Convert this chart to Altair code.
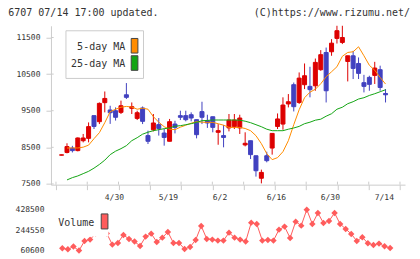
import altair as alt
import pandas as pd
import numpy as np

# ---------------- data ----------------
title_text = "6707 07/14 17:00 updated."
credit_text = "(C)https://www.rizumu.net/"
date_labels = ["4/30", "5/19", "6/2", "6/16", "6/30", "7/14"]
date_label_idx = [8, 18, 28, 38, 48, 58]
price_ticks = [7500, 8500, 9500, 10500, 11500]
vol_ticks = [60600, 244550, 428500]
ma_labels = ["5-day MA", "25-day MA"]
vol_label = "Volume"

open_ = [8285, 8360, 8480, 8410, 8680, 8745, 9365, 9200, 9720, 9520, 9500, 9455, 9935, 9565, 9290,
         9575, 8820, 8980, 9120, 8890, 8665, 9135, 9365, 9365, 9390, 9255, 9475, 9225, 9335, 8910,
         8820, 9030, 9065, 9030, 8565, 8680, 8270, 7655, 8270, 8480, 9070, 9135, 9685, 10210, 9725,
         10210, 10165, 10180, 10620, 11090, 11110, 11475, 11365, 10845, 11000, 10790, 10265, 10410,
         10465, 10620, 9970]
close = [8295, 8520, 8410, 8755, 8755, 9065, 9070, 9700, 9835, 9445, 9320, 9635, 9865, 9610, 9445,
         9210, 8665, 9165, 9015, 8770, 9200, 9045, 9320, 9255, 9300, 8845, 9320, 9165, 9045, 8955,
         8770, 9245, 9245, 9300, 8610, 8300, 7860, 7815, 8135, 8880, 9275, 9655, 9745, 9610, 10390,
         10455, 10075, 10820, 11030, 10045, 11345, 11685, 11500, 11000, 10655, 10520, 10165, 10220,
         10665, 10135, 9935]
high = [8300, 8610, 8540, 8770, 8865, 9180, 9365, 9725, 10025, 9635, 9590, 9775, 10255, 9725, 9500,
        9615, 8955, 9410, 9300, 9000, 9275, 9225, 9500, 9500, 9455, 9255, 9745, 9390, 9335, 9135,
        9110, 9410, 9410, 9390, 8910, 8680, 8270, 7890, 8380, 8880, 9425, 9865, 9955, 10270, 10545,
        10790, 10700, 10925, 11155, 11225, 11455, 11820, 11820, 11000, 11135, 10955, 10480, 10455,
        10835, 10730, 10090]
low = [8280, 8335, 8360, 8390, 8635, 8635, 9000, 9135, 9455, 9140, 9230, 9410, 9820, 9410, 9245,
       9135, 8590, 8935, 8820, 8545, 8665, 8880, 9245, 9210, 9210, 8745, 9135, 9030, 8910, 8570,
       8500, 8935, 9000, 8865, 8525, 8180, 7700, 7515, 8090, 8300, 9000, 8980, 9590, 9480, 9685,
       10090, 9865, 10045, 10590, 9725, 11000, 11335, 11320, 10300, 10365, 10365, 10000, 10045,
       10230, 10045, 9725]
ma5 = [None, 8482, 8482, 8482, 8504, 8559, 8736, 8900, 9173, 9473, 9541, 9595, 9617, 9601, 9541,
       9568, 9541, 9336, 9186, 9063, 8995, 8982, 9050, 9104, 9159, 9200, 9186, 9181, 9181, 9145,
       9104, 9044, 9044, 9044, 9014, 8954, 8818, 8600, 8327, 8163, 8218, 8381, 8681, 9118, 9527,
       9855, 10005, 10087, 10237, 10428, 10564, 10701, 10987, 11091, 11110, 11246, 11001, 10741,
       10605, 10409, 10229]
ma25 = [None, 7609, 7672, 7718, 7781, 7844, 7931, 8032, 8149, 8300, 8395, 8463, 8545, 8681, 8763,
        8859, 8913, 8954, 8982, 9009, 9028, 9077, 9091, 9118, 9145, 9181, 9227, 9235, 9246, 9246,
        9246, 9246, 9246, 9241, 9213, 9173, 9118, 9063, 8995, 8954, 8954, 8954, 8995, 9028, 9072,
        9145, 9186, 9241, 9268, 9350, 9418, 9541, 9595, 9691, 9746, 9819, 9855, 9917, 9964, 10018,
        10073]
volume = [None, 81500, 72500, 96500, 60600, 147400, 159300, 215000, 230000, 215000, 114400, 129400,
          201200, 165300, 141400, 102500, 186200, 213100, 138400, 177200, 228100, 129400, 129400,
          75600, 93500, 156300, 282000, 165300, 159300, 150300, 150300, 222100, 177200, 159300,
          141400, 311800, 299900, 150300, 156300, 150300, 249000, 276000, 174300, 320800, 284900,
          428500, 299900, 398600, 308800, 326800, 398600, 299900, 255000, 210200, 147400, 180200,
          126400, 111500, 123400, 99500, 84600]

n = len(open_)
df = pd.DataFrame({"i": list(range(n)), "open": open_, "high": high, "low": low,
                   "close": close, "ma5": ma5, "ma25": ma25, "vol": volume})
df["dir"] = np.where(df["close"] >= df["open"], "up", "down")

# ---------------- style / layout ----------------
F = "DejaVu Sans Mono"
RED, BLUE = "#dd0000", "#4141c0"
ORANGE, GREEN = "#ff8c00", "#14a514"
VOLC = "#ff5c5c"
AX, TXT = "#cccccc", "#333333"

PW, PH, VH = 354.3, 159, 41
XD = [-1.043, 62.68]
xticks = [float(v) for v in np.linspace(XD[0], XD[1], 12)]

xscale = alt.Scale(domain=XD, nice=False, zero=False)
yscale = alt.Scale(domain=[7480, 11820], nice=False, zero=False)
vscale = alt.Scale(domain=[vol_ticks[0], vol_ticks[-1]], nice=False, zero=False)
cscale = alt.Scale(domain=["up", "down"], range=[RED, BLUE])

base = alt.Chart(df)

wicks = base.mark_rule(strokeWidth=1).encode(
    x=alt.X("i:Q", scale=xscale, title=None,
            axis=alt.Axis(values=xticks, tickCount=50, labels=False, grid=False, tickSize=5,
                          tickColor=AX, domainColor=AX)),
    y=alt.Y("low:Q", scale=yscale, title=None,
            axis=alt.Axis(values=price_ticks, tickCount=50, grid=False, tickSize=5, tickColor=AX,
                          domainColor=AX, labelFont=F, labelFontSize=8, labelColor=TXT,
                          labelPadding=6, labelOverlap=False, format="d")),
    y2="high:Q",
    color=alt.Color("dir:N", scale=cscale, legend=None),
)
bodies = base.mark_bar(size=4, strokeWidth=1).encode(
    x=alt.X("i:Q", scale=xscale),
    y=alt.Y("open:Q", scale=yscale),
    y2="close:Q",
    color=alt.Color("dir:N", scale=cscale, legend=None),
    stroke=alt.Stroke("dir:N", scale=cscale, legend=None),
)
line5 = base.mark_line(color=ORANGE, strokeWidth=1).encode(
    x=alt.X("i:Q", scale=xscale), y=alt.Y("ma5:Q", scale=yscale))
line25 = base.mark_line(color=GREEN, strokeWidth=1).encode(
    x=alt.X("i:Q", scale=xscale), y=alt.Y("ma25:Q", scale=yscale))

# inner halves of the crossing ticks
xt_df = pd.DataFrame({"t": xticks})
xinner = alt.Chart(xt_df).mark_rule(color=AX).encode(
    x=alt.X("t:Q", scale=xscale), y=alt.value(PH - 3), y2=alt.value(PH))
yt_df = pd.DataFrame({"p": price_ticks})
yinner = alt.Chart(yt_df).mark_rule(color=AX).encode(
    y=alt.Y("p:Q", scale=yscale), x=alt.value(0), x2=alt.value(2.7))

one = pd.DataFrame({"a": [0]})
legend_box = alt.Chart(one).mark_rect(fill="white", stroke=AX, strokeWidth=1).encode(
    x=alt.value(15), x2=alt.value(92.6), y=alt.value(5), y2=alt.value(52.7))
legend_layers = []
for k, (lab, col) in enumerate(zip(ma_labels, [ORANGE, GREEN])):
    yy = 21 + 17.3 * k
    legend_layers.append(
        alt.Chart(pd.DataFrame({"t": [lab]})).mark_text(
            font=F, fontSize=10, color=TXT, align="right", baseline="middle").encode(
            x=alt.value(74.3), y=alt.value(yy), text="t:N"))
    legend_layers.append(
        alt.Chart(one).mark_rect(fill=col, stroke="#444444", strokeWidth=1).encode(
            x=alt.value(80.3), x2=alt.value(87), y=alt.value(yy - 8.3), y2=alt.value(yy + 6.3)))

title_l = alt.Chart(pd.DataFrame({"t": [title_text]})).mark_text(
    font=F, fontSize=10, color=TXT, align="left", baseline="middle").encode(
    x=alt.value(-42.7), y=alt.value(-12.3), text="t:N")
credit_l = alt.Chart(pd.DataFrame({"t": [credit_text]})).mark_text(
    font=F, fontSize=10, color=TXT, align="right", baseline="middle").encode(
    x=alt.value(359.3), y=alt.value(-12.3), text="t:N")

dl_df = pd.DataFrame({"i": date_label_idx, "t": date_labels})
date_l = alt.Chart(dl_df).mark_text(
    font=F, fontSize=8, color=TXT, align="left", baseline="middle").encode(
    x=alt.X("i:Q", scale=xscale), y=alt.value(PH + 13.7), text="t:N")

main = alt.layer(wicks, bodies, line5, line25, xinner, yinner, legend_box, *legend_layers,
                 title_l, credit_l, date_l).properties(width=PW, height=PH)

# ---------------- volume panel ----------------
vline = base.mark_line(color=VOLC, strokeWidth=1).encode(
    x=alt.X("i:Q", scale=xscale, axis=None),
    y=alt.Y("vol:Q", scale=vscale, title=None,
            axis=alt.Axis(values=vol_ticks, tickCount=50, grid=False, ticks=False, tickSize=0,
                          domain=False, labelFont=F, labelFontSize=8, labelColor=TXT,
                          labelPadding=7, labelOverlap=False, format="d")),
)
vpts = base.mark_point(shape="diamond", filled=True, size=42, opacity=1, color=VOLC).encode(
    x=alt.X("i:Q", scale=xscale), y=alt.Y("vol:Q", scale=vscale))
vbox = alt.Chart(one).mark_rect(fill="white").encode(
    x=alt.value(4), x2=alt.value(57.5), y=alt.value(-3), y2=alt.value(27))
vtext = alt.Chart(pd.DataFrame({"t": [vol_label]})).mark_text(
    font=F, fontSize=10, color=TXT, align="left", baseline="middle").encode(
    x=alt.value(7.3), y=alt.value(13.3), text="t:N")
vsw = alt.Chart(one).mark_rect(fill=VOLC, stroke="#444444", strokeWidth=1).encode(
    x=alt.value(50.3), x2=alt.value(57), y=alt.value(4.3), y2=alt.value(19.3))

vol = alt.layer(vline, vpts, vbox, vtext, vsw).properties(width=PW, height=VH)

chart = alt.vconcat(main, vol, spacing=25, bounds="flush").properties(
    padding={"left": 8, "top": 7.7, "right": 10, "bottom": 5.76},
    background="white",
).configure_view(strokeWidth=0)

chart.save("out.html", embed_options={"renderer": "svg", "actions": False})
